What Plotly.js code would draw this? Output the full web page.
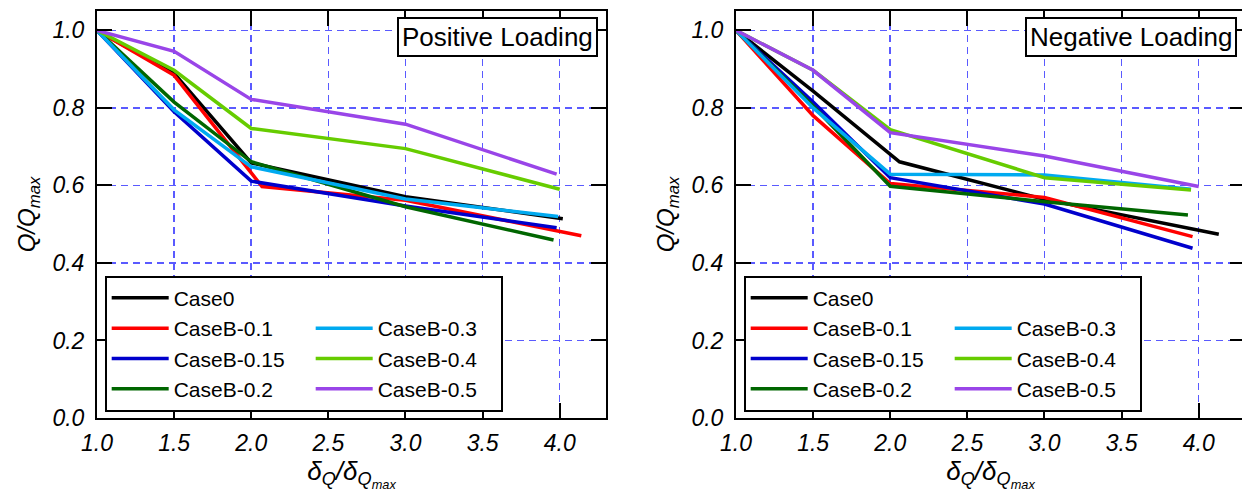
<!DOCTYPE html>
<html><head><meta charset="utf-8">
<script src="https://cdn.plot.ly/plotly-3.0.1.min.js"></script>
<style>
html,body{margin:0;padding:0;width:1242px;height:492px;overflow:hidden;background:#fff}
#left{position:absolute;left:0;top:0;width:639px;height:492px}
#right{position:absolute;left:639px;top:0;width:639px;height:492px}
</style></head><body>
<div id="left"></div><div id="right"></div>
<script>
// ---- data ----
const seriesNames = ['Case0','CaseB-0.1','CaseB-0.15','CaseB-0.2','CaseB-0.3','CaseB-0.4','CaseB-0.5'];
const seriesColors = ['#000000','#FF0000','#0000CC','#006600','#00AAF0','#66CC00','#9945E8'];
const legendRanks = [1,3,5,7,4,6,8];
const xTickVals = [1.0,1.5,2.0,2.5,3.0,3.5,4.0];
const yTickVals = [0.0,0.2,0.4,0.6,0.8,1.0];
const panelLabels = ['Positive Loading','Negative Loading'];

// Positive loading
const posX_case0 = [1.0,1.5,2.0,3.0,4.02];  const posY_case0 = [1.0,0.889,0.658,0.571,0.514];
const posX_b01   = [1.0,1.5,2.07,3.0,4.14]; const posY_b01   = [1.0,0.884,0.597,0.562,0.470];
const posX_b015  = [1.0,1.5,2.0,3.0,3.98];  const posY_b015  = [1.0,0.790,0.611,0.547,0.491];
const posX_b02   = [1.0,1.5,2.0,3.0,3.96];  const posY_b02   = [1.0,0.815,0.661,0.545,0.459];
const posX_b03   = [1.0,1.5,2.0,3.0,3.99];  const posY_b03   = [1.0,0.795,0.648,0.565,0.520];
const posX_b04   = [1.0,1.5,2.0,3.0,4.0];   const posY_b04   = [1.0,0.897,0.747,0.695,0.590];
const posX_b05   = [1.0,1.5,2.0,3.0,3.98];  const posY_b05   = [1.0,0.946,0.822,0.758,0.629];

// Negative loading
const negX_case0 = [1.0,1.5,2.06,3.0,4.13]; const negY_case0 = [1.0,0.843,0.661,0.564,0.474];
const negX_b01   = [1.0,1.5,2.0,3.0,3.96];  const negY_b01   = [1.0,0.780,0.605,0.569,0.468];
const negX_b015  = [1.0,1.5,2.0,3.0,3.96];  const negY_b015  = [1.0,0.815,0.620,0.552,0.438];
const negX_b02   = [1.0,1.5,2.0,3.0,3.93];  const negY_b02   = [1.0,0.805,0.598,0.558,0.524];
const negX_b03   = [1.0,1.5,2.0,3.0,3.95];  const negY_b03   = [1.0,0.800,0.629,0.627,0.590];
const negX_b04   = [1.0,1.5,2.0,3.0,3.95];  const negY_b04   = [1.0,0.897,0.744,0.620,0.588];
const negX_b05   = [1.0,1.5,2.0,3.0,4.0];   const negY_b05   = [1.0,0.897,0.736,0.676,0.597];

const posXs = [posX_case0,posX_b01,posX_b015,posX_b02,posX_b03,posX_b04,posX_b05];
const posYs = [posY_case0,posY_b01,posY_b015,posY_b02,posY_b03,posY_b04,posY_b05];
const negXs = [negX_case0,negX_b01,negX_b015,negX_b02,negX_b03,negX_b04,negX_b05];
const negYs = [negY_case0,negY_b01,negY_b015,negY_b02,negY_b03,negY_b04,negY_b05];

const FONT = 'Liberation Sans, Arial, Helvetica, sans-serif';

function buildTraces(xs, ys) {
  const traces = seriesNames.map((n, i) => ({
    type: 'scatter', mode: 'lines', name: n,
    x: xs[i], y: ys[i],
    line: {color: seriesColors[i], width: 3.5},
    legendrank: legendRanks[i],
    legendwidth: (legendRanks[i] % 2 === 0) ? 118 : 132,
    hoverinfo: 'skip'
  }));
  // invisible spacer so that Case0 sits alone on the first legend row
  traces.push({type: 'scatter', mode: 'lines', name: ' ', x: [null], y: [null],
    line: {color: 'rgba(0,0,0,0)', width: 0}, legendrank: 2, legendwidth: 118, hoverinfo: 'skip'});
  return traces;
}

function buildLayout(label) {
  const axisCommon = {
    showline: true, linecolor: '#000', linewidth: 2, mirror: 'ticks',
    ticks: 'inside', ticklen: 15, tickwidth: 2, tickcolor: '#000',
    showgrid: true, gridcolor: '#5A5AFF', gridwidth: 1.5, griddash: '7px,5px',
    zeroline: false, tickformat: '.1f',
    tickfont: {family: FONT, size: 23, color: '#000', style: 'italic'}
  };
  return {
    width: 639, height: 492,
    margin: {l: 97, r: 33, t: 11, b: 74},
    paper_bgcolor: '#fff', plot_bgcolor: '#fff',
    showlegend: true,
    xaxis: Object.assign({}, axisCommon, {
      range: [1.0, 4.3], tickvals: xTickVals, ticklabelstandoff: 3,
      title: {text: 'δ<sub>Q</sub>/δ<sub>Q<sub>max</sub></sub>', standoff: 6,
        font: {family: FONT, size: 26, color: '#000', style: 'italic'}}
    }),
    yaxis: Object.assign({}, axisCommon, {
      range: [0, 1.05], tickvals: yTickVals, ticklabelstandoff: 6,
      title: {text: 'Q/Q<sub>max</sub>', standoff: 10,
        font: {family: FONT, size: 24, color: '#000', style: 'italic'}}
    }),
    legend: {
      orientation: 'h', x: 0.0151, xanchor: 'left', y: 0.0155, yanchor: 'bottom',
      bgcolor: '#fff', bordercolor: '#000', borderwidth: 2,
      font: {family: FONT, size: 21, color: '#000'},
      itemwidth: 57, entrywidthmode: 'pixels', entrywidth: 132,
      traceorder: 'normal', tracegroupgap: 0
    },
    annotations: [{
      xref: 'paper', yref: 'paper', x: 0.985, y: 0.9845, xanchor: 'right', yanchor: 'top',
      text: label, showarrow: false, bgcolor: '#fff', bordercolor: '#000', borderwidth: 2, borderpad: 3,
      font: {family: FONT, size: 26, color: '#000'}
    }]
  };
}

const cfg = {displayModeBar: false, staticPlot: true};
Plotly.newPlot('left', buildTraces(posXs, posYs), buildLayout(panelLabels[0]), cfg);
Plotly.newPlot('right', buildTraces(negXs, negYs), buildLayout(panelLabels[1]), cfg);
</script>
</body></html>
